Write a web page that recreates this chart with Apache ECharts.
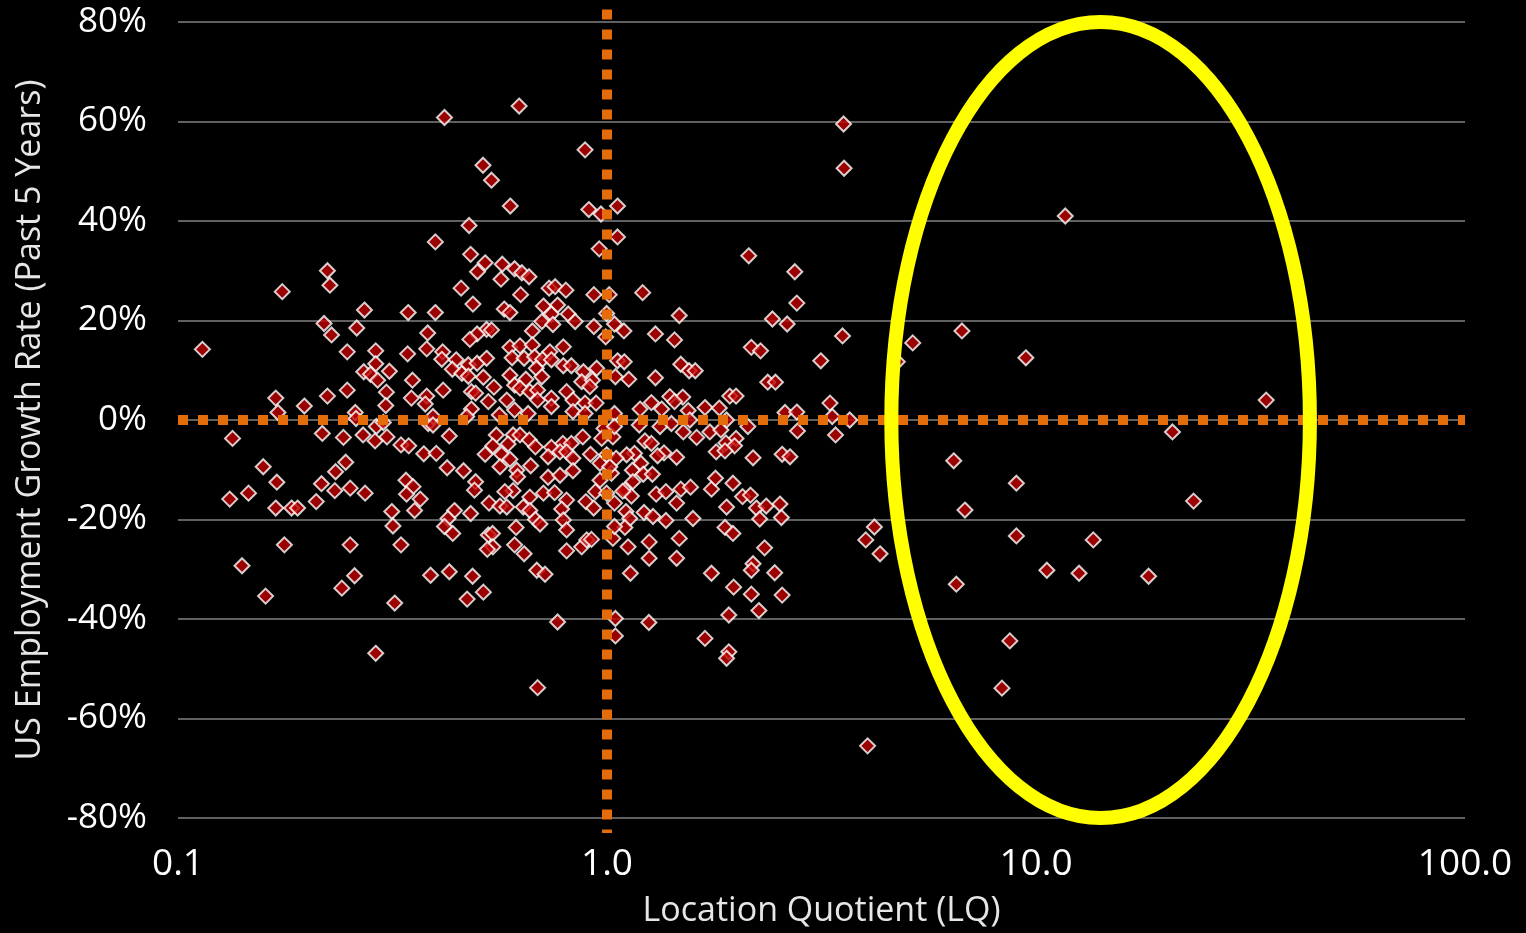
<!DOCTYPE html>
<html>
<head>
<meta charset="utf-8">
<script src="https://cdn.jsdelivr.net/npm/echarts@6/dist/echarts.min.js"></script>
<style>
html, body { margin: 0; padding: 0; background: #000; }
#chart { width: 1526px; height: 933px; }
</style>
</head>
<body>
<div id="chart"></div>
<script>
// [location quotient, US employment growth % (past 5 years)]
const belowOne = [
  [0.223,30],[0.226,27.1],[0.175,25.8],[0.272,22.1],[0.344,21.6],[0.219,19.4],[0.261,18.5],[0.228,17.1],
  [0.114,14.2],[0.248,13.7],[0.289,13.9],[0.343,13.3],[0.380,14.3],[0.382,17.5],[0.289,11.3],[0.271,9.7],
  [0.281,9.2],[0.292,8.0],[0.311,9.8],[0.352,8.0],[0.306,5.6],[0.248,6.0],[0.223,4.8],[0.169,4.4],
  [0.197,2.8],[0.171,1.5],[0.305,2.9],[0.350,4.4],[0.380,4.8],[0.377,3.2],[0.259,1.5],[0.260,0.3],
  [0.290,-1.3],[0.301,-0.5],[0.217,-2.7],[0.243,-3.5],[0.270,-3.0],[0.307,-3.4],[0.134,-3.7],[0.383,-0.7],
  [0.288,-4.2],[0.331,-5.0],[0.345,-5.2],[0.374,-6.8],[0.158,-9.4],[0.170,-12.5],[0.146,-14.7],[0.132,-15.9],
  [0.169,-17.7],[0.184,-17.7],[0.190,-17.7],[0.210,-16.4],[0.216,-12.8],[0.233,-10.4],[0.246,-8.5],[0.232,-14.2],
  [0.252,-13.7],[0.273,-14.7],[0.340,-12.1],[0.353,-13.4],[0.341,-14.9],[0.367,-15.9],[0.356,-18.2],[0.315,-18.4],
  [0.317,-21.3],[0.177,-25.1],[0.252,-25.1],[0.331,-25.1],[0.141,-29.3],[0.258,-31.3],[0.241,-33.8],[0.160,-35.4],
  [0.320,-36.8],[0.289,-46.9],[0.388,-31.2],[0.624,63.1],[0.418,60.8],[0.889,54.3],[0.514,51.2],[0.538,48.2],
  [0.595,43.0],[0.907,42.3],[0.968,41.4],[0.477,39.1],[0.398,35.8],[0.959,34.4],[0.481,33.3],[0.520,31.6],
  [0.499,29.8],[0.570,31.3],[0.609,30.4],[0.633,29.6],[0.658,28.8],[0.566,28.3],[0.457,26.5],[0.629,25.2],
  [0.733,26.5],[0.757,26.8],[0.802,26.1],[0.932,25.2],[0.487,23.3],[0.576,22.3],[0.594,21.6],[0.398,21.6],
  [0.711,22.9],[0.767,23.1],[0.742,21.3],[0.812,21.3],[0.843,19.8],[0.705,19.8],[0.748,19.2],[0.932,18.8],
  [0.998,21.4],[0.993,16.7],[0.524,18.2],[0.538,18.1],[0.498,17.3],[0.479,16.2],[0.670,17.9],[0.414,13.7],
  [0.412,12.2],[0.445,12.1],[0.436,10.2],[0.459,9.4],[0.475,11.1],[0.498,11.4],[0.524,12.4],[0.475,8.8],
  [0.515,8.6],[0.594,14.6],[0.627,14.9],[0.670,15.1],[0.601,12.5],[0.641,12.4],[0.678,12.7],[0.708,12.2],
  [0.736,13.7],[0.791,14.7],[0.742,12.1],[0.791,10.9],[0.826,10.9],[0.684,10.4],[0.594,9.0],[0.647,8.2],
  [0.705,8.7],[0.881,9.7],[0.946,10.4],[0.873,7.7],[0.925,8.0],[0.912,6.7],[0.415,6.0],[0.483,5.7],
  [0.494,5.4],[0.545,6.6],[0.529,3.7],[0.483,2.2],[0.609,7.0],[0.627,6.4],[0.661,5.7],[0.689,6.0],
  [0.805,5.7],[0.584,4.0],[0.609,2.0],[0.689,4.0],[0.742,4.4],[0.742,2.7],[0.833,4.0],[0.889,3.4],
  [0.943,3.4],[0.833,1.7],[0.889,1.3],[0.655,1.3],[0.561,1.0],[0.393,0.7],[0.471,0.7],[0.393,-1.0],
  [0.429,-3.2],[0.552,-3.0],[0.604,-3.0],[0.627,-3.0],[0.659,-4.0],[0.681,-5.4],[0.542,-5.2],[0.588,-4.8],
  [0.520,-6.9],[0.568,-6.9],[0.594,-7.9],[0.563,-9.4],[0.400,-6.7],[0.424,-9.6],[0.463,-10.2],[0.742,-5.5],
  [0.789,-4.7],[0.826,-4.7],[0.878,-3.4],[0.984,-1.7],[0.729,-7.4],[0.777,-6.4],[0.805,-6.4],[0.833,-7.7],
  [0.915,-6.9],[0.998,-7.0],[0.664,-9.2],[0.616,-10.1],[0.619,-11.4],[0.729,-11.5],[0.777,-11.1],[0.833,-10.2],
  [0.963,-12.1],[0.494,-12.4],[0.491,-14.1],[0.604,-14.2],[0.578,-14.4],[0.661,-15.5],[0.711,-14.7],[0.755,-14.6],
  [0.805,-16.1],[0.940,-14.4],[0.893,-16.4],[0.998,-14.7],[0.531,-16.7],[0.563,-17.3],[0.584,-17.5],[0.638,-17.5],
  [0.661,-18.2],[0.784,-17.9],[0.441,-18.2],[0.426,-19.8],[0.481,-18.8],[0.681,-20.0],[0.698,-20.9],[0.791,-20.1],
  [0.805,-22.1],[0.614,-21.6],[0.418,-21.4],[0.437,-22.8],[0.529,-23.1],[0.541,-22.8],[0.542,-25.5],[0.526,-26.0],
  [0.609,-25.1],[0.641,-26.9],[0.805,-26.3],[0.873,-25.5],[0.897,-24.1],[0.429,-30.5],[0.486,-31.4],[0.686,-30.2],
  [0.717,-31.0],[0.515,-34.6],[0.472,-36.0],[0.767,-40.6],[0.689,-53.8],[0.972,-3.7],[0.963,-8.7],[0.931,-17.7],
  [0.920,-24.0]
];

const aboveOne = [
  [1.058,43.0],[1.058,36.8],[1.012,25.2],[1.041,1.3],[1.032,-3.4],[1.024,-10.7],[1.032,-23.8],[1.046,-39.9],
  [1.046,-43.4],[3.56,59.5],[3.57,50.6],[2.14,33.0],[2.74,29.8],[1.211,25.6],[2.77,23.5],[1.474,21.0],
  [2.43,20.3],[2.63,19.3],[3.54,16.9],[1.041,19.3],[1.095,17.9],[1.297,17.3],[1.437,16.1],[2.17,14.6],
  [2.28,13.9],[3.15,11.9],[1.058,11.9],[1.097,11.7],[1.046,8.7],[1.124,8.2],[1.297,8.5],[1.486,11.2],
  [1.554,9.9],[1.606,9.9],[2.37,7.6],[2.47,7.6],[1.194,2.2],[1.269,3.5],[1.341,2.2],[1.401,4.7],
  [1.502,4.6],[1.437,3.7],[1.546,1.9],[1.692,2.5],[1.827,2.4],[1.933,4.8],[1.999,4.8],[2.60,1.5],
  [2.77,1.6],[3.31,3.4],[3.35,0.7],[1.90,0],[1.56,0],[1.041,-1.3],[1.189,-1.0],[1.329,-1.3],
  [1.413,-0.7],[1.506,-2.4],[1.618,-3.5],[1.737,-2.4],[1.843,-2.0],[1.999,-3.7],[1.893,-4.6],[1.983,-5.2],
  [1.797,-6.4],[1.884,-6.2],[2.13,-1.3],[2.78,-2.2],[3.41,-3.0],[2.19,-7.6],[2.56,-6.9],[2.67,-7.4],
  [1.226,-4.2],[1.269,-4.7],[1.358,-6.6],[1.453,-7.5],[1.312,-7.2],[1.159,-6.7],[1.111,-7.0],[1.050,-7.7],
  [1.199,-8.7],[1.146,-10.1],[1.215,-10.9],[1.276,-10.9],[1.149,-12.4],[1.015,-9.4],[1.101,-14.1],[1.140,-15.3],
  [1.088,-14.3],[1.302,-14.9],[1.372,-14.4],[1.486,-13.9],[1.566,-13.5],[1.752,-13.9],[1.790,-11.7],[1.966,-12.7],
  [2.07,-15.4],[2.16,-15.1],[1.453,-16.7],[1.90,-17.5],[2.23,-17.7],[2.35,-17.3],[2.53,-16.9],[2.55,-19.6],
  [2.27,-19.9],[1.220,-18.6],[1.280,-19.4],[1.372,-20.2],[1.586,-19.8],[1.107,-18.4],[1.041,-16.7],[1.130,-19.8],
  [1.101,-21.6],[1.041,-21.4],[1.254,-24.5],[1.474,-23.8],[1.884,-21.6],[1.966,-22.8],[2.33,-25.7],[1.120,-25.5],
  [1.254,-27.8],[1.453,-27.8],[2.19,-28.9],[2.17,-30.2],[2.46,-30.7],[1.752,-30.8],[1.134,-30.8],[1.973,-33.6],
  [2.17,-35.0],[2.56,-35.2],[2.26,-38.3],[1.923,-39.2],[1.252,-40.7],[1.692,-43.9],[1.923,-46.6],[1.90,-47.9],
  [4.05,-65.5],[3.68,0],[4.01,-24.1],[4.20,-21.5],[4.33,-26.9]
];

const circled = [
  [4.75,11.7],[5.16,15.5],[6.72,17.9],[9.47,12.5],[11.7,41.0],[34.4,4.0],[20.8,-2.4],[23.3,-16.3],
  [6.43,-8.2],[6.83,-18.1],[9.00,-12.7],[9.00,-23.3],[10.6,-30.2],[12.6,-30.8],[13.6,-24.1],[18.3,-31.4],
  [6.52,-33.0],[8.69,-44.4],[8.33,-53.9]
];

// reference lines and highlight ellipse (data units)
const zeroLineLQ = [0.1, 100];
const lqOneGrowth = [82.5, -83];
const ellipseLQ = [4.6, 43.5];
const ellipseGrowth = [-80, 80];

const chart = echarts.init(document.getElementById("chart"));
const fontFamily = "'Open Sans', sans-serif";

chart.setOption({
  backgroundColor: "#000",
  animation: false,
  grid: { left: 178, right: 61, top: 22, bottom: 115, outerBoundsMode: "none" },
  xAxis: {
    type: "log",
    logBase: 10,
    min: 0.1,
    max: 100,
    name: "Location Quotient (LQ)",
    nameLocation: "middle",
    nameGap: 76,
    nameTextStyle: { color: "#e6e6e6", fontSize: 34, fontFamily: fontFamily },
    axisLine: { show: false },
    axisTick: { show: false },
    splitLine: { show: false },
    axisLabel: {
      color: "#fff",
      fontSize: 37,
      fontFamily: fontFamily,
      margin: 28,
      formatter: (v) => v.toFixed(1),
    },
  },
  yAxis: {
    type: "value",
    min: -80,
    max: 80,
    interval: 20,
    name: "US Employment Growth Rate (Past 5 Years)",
    nameLocation: "middle",
    nameGap: 131,
    nameTextStyle: { color: "#e6e6e6", fontSize: 34, fontFamily: fontFamily },
    axisLine: { show: false },
    axisTick: { show: false },
    splitLine: { lineStyle: { color: "#808080", width: 1.5 } },
    axisLabel: {
      color: "#fff",
      fontSize: 35,
      fontFamily: fontFamily,
      margin: 31,
      formatter: "{value}%",
    },
  },
  series: [
    {
      type: "scatter",
      symbol: "diamond",
      symbolSize: 15,
      itemStyle: { color: "#C00000", borderColor: "#fff", borderWidth: 2 },
      data: belowOne.concat(aboveOne, circled),
      z: 2,
    },
    {
      type: "line",
      symbol: "none",
      silent: true,
      lineStyle: { color: "#E46C0A", width: 10, type: [10, 10], cap: "butt" },
      data: [[zeroLineLQ[0], 0], [zeroLineLQ[1], 0]],
      z: 3,
    },
    {
      type: "line",
      symbol: "none",
      silent: true,
      clip: false,
      lineStyle: { color: "#E46C0A", width: 10, type: [10, 10], cap: "butt" },
      data: [[1, lqOneGrowth[0]], [1, lqOneGrowth[1]]],
      z: 3,
    },
  ],
});

// yellow ellipse placed through the axes
const p1 = chart.convertToPixel({ gridIndex: 0 }, [ellipseLQ[0], ellipseGrowth[1]]);
const p2 = chart.convertToPixel({ gridIndex: 0 }, [ellipseLQ[1], ellipseGrowth[0]]);
chart.setOption({
  graphic: [
    {
      type: "ellipse",
      silent: true,
      z: 10,
      shape: {
        cx: (p1[0] + p2[0]) / 2,
        cy: (p1[1] + p2[1]) / 2,
        rx: Math.abs(p2[0] - p1[0]) / 2,
        ry: Math.abs(p2[1] - p1[1]) / 2,
      },
      style: { fill: "none", stroke: "#FFFF00", lineWidth: 14 },
    },
  ],
});
</script>
</body>
</html>
